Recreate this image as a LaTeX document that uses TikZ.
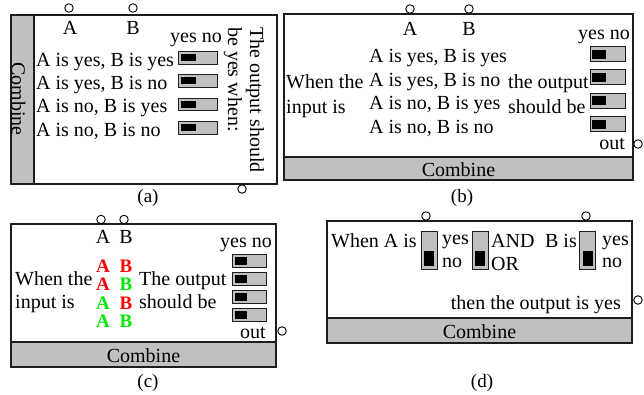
\documentclass[tikz,border=0pt]{standalone}
\usepackage{fontspec}
\setmainfont{Liberation Serif}
\definecolor{panelgray}{RGB}{192,192,192}
\definecolor{framegray}{RGB}{30,30,30}
\definecolor{hotred}{RGB}{255,0,0}
\definecolor{litegreen}{RGB}{0,232,0}
\begin{document}
\begin{tikzpicture}[x=1pt,y=-1pt,
  txt/.style={inner sep=0pt,font=\fontsize{20}{24}\selectfont},
  bold/.style={inner sep=0pt,font=\fontsize{19}{22}\selectfont\bfseries},
  caption/.style={inner sep=0pt,font=\fontsize{19}{22}\selectfont},
  port/.style={circle,draw,fill=white,line width=0.9pt,minimum size=8.5pt,inner sep=0pt},
  frame/.style={draw=framegray,line width=1.4pt},
  strip/.style={draw=framegray,fill=panelgray,line width=1.4pt},
  switchbox/.style={draw=framegray,fill=panelgray,line width=1pt,inner sep=0pt},
  knob/.style={fill=black}
]
\useasboundingbox (0,0) rectangle (644,395);

% ---------- panel (a): vertical title strip ----------
\draw[frame] (11,15) rectangle (277,184);
\draw[strip] (11,15) rectangle (34,184);
\node[txt,rotate=-90] (combA) at (18.5,99) {Combine};
\node[port] (inA1) at (69,8) {};
\node[port] (inA2) at (133,8) {};
\node[port] (outA) at (242,189) {};
\node[txt,anchor=base] (labA1) at (70,35) {A};
\node[txt,anchor=base] (labA2) at (133,35) {B};
\node[txt,anchor=base] (ynA) at (196,43) {yes no};
\node[txt,anchor=base west] (rowA1) at (36,67) {A is yes, B is yes};
\node[txt,anchor=base west] (rowA2) at (36,90) {A is yes, B is no};
\node[txt,anchor=base west] (rowA3) at (36,113) {A is no, B is yes};
\node[txt,anchor=base west] (rowA4) at (36,137) {A is no, B is no};
\foreach \yy [count=\i] in {58,81,104.5,128}{
  \node[switchbox,minimum width=39pt,minimum height=12.5pt] (swA\i) at (197.5,\yy) {};
  \fill[knob] (swA\i.west) ++(3,-3.5) rectangle ++(15,7);
}
\node[txt,rotate=-90,anchor=base west] (askA1) at (250,27) {The output should};
\node[txt,rotate=-90,anchor=base west] (askA2) at (228,27) {be yes when:};
\node[caption,anchor=base] (capA) at (148,203) {(a)};

% ---------- panel (b): horizontal title strip ----------
\draw[frame] (284,14) rectangle (633,180);
\draw[strip] (284,157) rectangle (633,180);
\node[txt,anchor=base] (combB) at (458.5,177) {Combine};
\node[port] (inB1) at (410,9) {};
\node[port] (inB2) at (469,9) {};
\node[port] (outB) at (638,144) {};
\node[txt,anchor=base] (labB1) at (410,36) {A};
\node[txt,anchor=base] (labB2) at (469,36) {B};
\node[txt,anchor=base east] (ynB) at (630,40) {yes no};
\node[txt,anchor=base west] (whenB1) at (286,89) {When the};
\node[txt,anchor=base west] (whenB2) at (286,114) {input is};
\node[txt,anchor=base west] (rowB1) at (369,63) {A is yes, B is yes};
\node[txt,anchor=base west] (rowB2) at (369,86.5) {A is yes, B is no};
\node[txt,anchor=base west] (rowB3) at (369,110) {A is no, B is yes};
\node[txt,anchor=base west] (rowB4) at (369,133.5) {A is no, B is no};
\node[txt,anchor=base west] (thenB1) at (508,89) {the output};
\node[txt,anchor=base west] (thenB2) at (508,114) {should be};
\foreach \yy [count=\i] in {54.5,77.5,101,124.5}{
  \node[switchbox,minimum width=35pt,minimum height=15pt] (swB\i) at (607.5,\yy) {};
  \fill[knob] (swB\i.west) ++(2,-4.5) rectangle ++(14,9);
}
\node[txt,anchor=base east] (outlB) at (625,150) {out};
\node[caption,anchor=base] (capB) at (462,203) {(b)};

% ---------- panel (c): coloured truth table ----------
\draw[frame] (11,224) rectangle (276,367);
\draw[strip] (11,342) rectangle (276,367);
\node[txt,anchor=base] (combC) at (143.5,362) {Combine};
\node[port] (inC1) at (101,219.5) {};
\node[port] (inC2) at (124,219.5) {};
\node[port] (outC) at (282,331) {};
\node[txt,anchor=base] (labC1) at (103,243) {A};
\node[txt,anchor=base] (labC2) at (126,243) {B};
\node[txt,anchor=base east] (ynC) at (272,247) {yes no};
\node[txt,anchor=base west] (whenC1) at (15,285) {When the};
\node[txt,anchor=base west] (whenC2) at (15,308) {input is};
\node[bold,anchor=base,text=hotred] (ttA1) at (103,272) {A};
\node[bold,anchor=base,text=hotred] (ttB1) at (126,272) {B};
\node[bold,anchor=base,text=hotred] (ttA2) at (103,290) {A};
\node[bold,anchor=base,text=litegreen] (ttB2) at (126,290) {B};
\node[bold,anchor=base,text=litegreen] (ttA3) at (103,309) {A};
\node[bold,anchor=base,text=hotred] (ttB3) at (126,309) {B};
\node[bold,anchor=base,text=litegreen] (ttA4) at (103,327) {A};
\node[bold,anchor=base,text=litegreen] (ttB4) at (126,327) {B};
\node[txt,anchor=base west] (thenC1) at (139,285) {The output};
\node[txt,anchor=base west] (thenC2) at (139,308) {should be};
\foreach \yy [count=\i] in {261,278.5,296.5,315}{
  \node[switchbox,minimum width=34pt,minimum height=13pt] (swC\i) at (249,\yy) {};
  \fill[knob] (swC\i.west) ++(3,-4) rectangle ++(12,8);
}
\node[txt,anchor=base east] (outlC) at (266,338) {out};
\node[caption,anchor=base] (capC) at (148,387) {(c)};

% ---------- panel (d): sentence with toggles ----------
\draw[frame] (327,221) rectangle (632,343);
\draw[strip] (327,318) rectangle (632,343);
\node[txt,anchor=base] (combD) at (479.5,338) {Combine};
\node[port] (inD1) at (426,216) {};
\node[port] (inD2) at (586,216) {};
\node[port] (outD) at (638,300) {};
\node[txt,anchor=base west] (whenD) at (331,247) {When A is};
\node[switchbox,minimum width=16pt,minimum height=38pt] (swD1) at (429,250) {};
\fill[knob] (swD1.south) ++(-5,-4) rectangle ++(10,-15);
\node[txt,anchor=base west] (yesD1) at (442,244) {yes};
\node[txt,anchor=base west] (noD1) at (442,267) {no};
\node[switchbox,minimum width=16pt,minimum height=38pt] (swD2) at (480,250) {};
\fill[knob] (swD2.south) ++(-5,-4) rectangle ++(10,-15);
\node[txt,anchor=base west] (andD) at (491,247) {AND};
\node[txt,anchor=base west] (orD) at (491,270) {OR};
\node[txt,anchor=base east] (bisD) at (577,247) {B is};
\node[switchbox,minimum width=16pt,minimum height=38pt] (swD3) at (587.5,250) {};
\fill[knob] (swD3.south) ++(-5,-4) rectangle ++(10,-15);
\node[txt,anchor=base west] (yesD2) at (602,245) {yes};
\node[txt,anchor=base west] (noD2) at (602,267) {no};
\node[txt,anchor=base east] (thenD) at (621,309) {then the output is yes};
\node[caption,anchor=base] (capD) at (482,387) {(d)};
\end{tikzpicture}
\end{document}
